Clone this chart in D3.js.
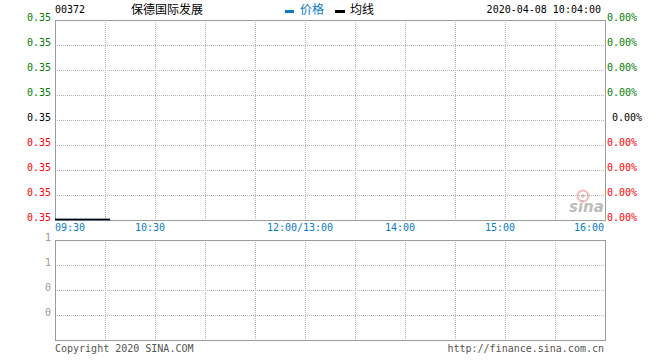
<!DOCTYPE html>
<html>
<head>
<meta charset="utf-8">
<script src="https://cdn.jsdelivr.net/npm/d3@7"></script>
<style>
  body { margin: 0; background: #fff; }
  svg text { font-family: "DejaVu Sans Mono", monospace; font-size: 10px; }
  .cjk { font-family: "Noto Sans CJK SC", sans-serif !important; font-size: 12px !important; }
</style>
</head>
<body>
<div id="chart"></div>
<script>
// stock info
const stockCode = '00372'
const stockName = '保德国际发展'
const stamp = '2020-04-08 10:04:00'

// minute data (flat at 0.35 so far)
const times = ['09:30', '09:31', '09:32', '09:33', '09:34', '09:35', '09:36', '09:37', '09:38', '09:39',
  '09:40', '09:41', '09:42', '09:43', '09:44', '09:45', '09:46', '09:47', '09:48', '09:49',
  '09:50', '09:51', '09:52', '09:53', '09:54', '09:55', '09:56', '09:57', '09:58', '09:59',
  '10:00', '10:01', '10:02', '10:03']
const prices = [0.35, 0.35, 0.35, 0.35, 0.35, 0.35, 0.35, 0.35, 0.35, 0.35,
  0.35, 0.35, 0.35, 0.35, 0.35, 0.35, 0.35, 0.35, 0.35, 0.35,
  0.35, 0.35, 0.35, 0.35, 0.35, 0.35, 0.35, 0.35, 0.35, 0.35,
  0.35, 0.35, 0.35, 0.35]
const avgPrices = prices.slice()

// axis labels
const priceLabels = ['0.35', '0.35', '0.35', '0.35', '0.35', '0.35', '0.35', '0.35', '0.35']
const pctLabels = ['0.00%', '0.00%', '0.00%', '0.00%', '0.00%', '0.00%', '0.00%', '0.00%', '0.00%']
const volLabels = ['1', '1', '0', '0']
const timeTicks = ['09:30', '10:30', '12:00', '14:00', '15:00', '16:00']
const timeTickText = ['09:30', '10:30', '12:00/13:00', '14:00', '15:00', '16:00']
const priceLow = 0.35, priceHigh = 0.3504

const W = 660, H = 360
const pLeft = 55, pRight = 605
const pTop = 20, pBottom = 220
const vTop = 240, vBottom = 340
const green = '#008000', red = '#ff0000', blue = '#0a7ccc', grid = '#b4b4b4', frame = '#9c9c9c'

const toMin = t => { let [h, m] = t.split(':').map(Number); return h * 60 + m }

const x = d3.scaleLinear()
  .domain([toMin('09:30'), toMin('12:00'), toMin('13:00'), toMin('16:00')])
  .range([pLeft, 305, 305, pRight])
const y = d3.scaleLinear().domain([priceLow, priceHigh]).range([pBottom, pTop])
const yRow = d3.scaleLinear().domain([0, 8]).range([pTop, pBottom])
const vRow = d3.scaleLinear().domain([0, 4]).range([vTop, vBottom])
const col = d3.scaleLinear().domain([0, 11]).range([pLeft, pRight])

const svg = d3.select('#chart').append('svg')
  .attr('width', W).attr('height', H)

function drawGrid(y0, y1, rows, rowScale) {
  let g = svg.append('g')
  g.selectAll('line.h').data(d3.range(1, rows)).enter().append('line')
    .attr('x1', pLeft).attr('x2', pRight)
    .attr('y1', d => rowScale(d) + 0.5).attr('y2', d => rowScale(d) + 0.5)
    .attr('stroke', grid).attr('stroke-dasharray', '1,1')
  g.selectAll('line.v').data(d3.range(1, 11)).enter().append('line')
    .attr('x1', d => col(d) + 0.5).attr('x2', d => col(d) + 0.5)
    .attr('y1', y0).attr('y2', y1)
    .attr('stroke', grid).attr('stroke-dasharray', '1,1')
  g.append('rect')
    .attr('x', pLeft + 0.5).attr('y', y0 + 0.5)
    .attr('width', pRight - pLeft).attr('height', y1 - y0)
    .attr('fill', 'none').attr('stroke', frame)
}
drawGrid(pTop, pBottom, 8, yRow)
drawGrid(vTop, vBottom, 4, vRow)

// watermark
let wm = svg.append('g').attr('opacity', 0.55)
wm.append('circle').attr('cx', 583).attr('cy', 196).attr('r', 5.5)
  .attr('fill', 'none').attr('stroke', '#f08080').attr('stroke-width', 2)
wm.append('circle').attr('cx', 583).attr('cy', 196).attr('r', 1.8).attr('fill', '#999')
wm.append('text').attr('x', 569).attr('y', 212)
  .style('font-family', 'DejaVu Sans').style('font-size', '15px')
  .style('font-style', 'italic').style('font-weight', 'bold')
  .attr('fill', '#888').text('sina')

// price side labels
const colorOf = i => i < 4 ? green : (i === 4 ? '#000' : red)
svg.selectAll('text.pl').data(priceLabels).enter().append('text')
  .attr('x', 51).attr('y', (d, i) => yRow(i) + 1)
  .attr('text-anchor', 'end').attr('fill', (d, i) => colorOf(i)).text(d => d)
svg.selectAll('text.pr').data(pctLabels).enter().append('text')
  .attr('x', (d, i) => i === 4 ? 612 : 607).attr('y', (d, i) => yRow(i) + 1)
  .attr('fill', (d, i) => colorOf(i)).text(d => d)

// volume labels
svg.selectAll('text.vl').data(volLabels).enter().append('text')
  .attr('x', 51).attr('y', (d, i) => vRow(i) + 1)
  .attr('text-anchor', 'end').attr('fill', '#999').text(d => d)

// time labels
svg.selectAll('text.tl').data(timeTicks).enter().append('text')
  .attr('x', (d, i) => i === 0 ? pLeft : (i === timeTicks.length - 1 ? pRight - 1 : x(toMin(d)) - 5))
  .attr('y', 231)
  .attr('text-anchor', (d, i) => i === 0 ? 'start' : (i === timeTicks.length - 1 ? 'end' : 'middle'))
  .attr('fill', blue).text((d, i) => timeTickText[i])

// lines
const line = d3.line().x(d => x(toMin(d[0]))).y(d => y(d[1]) - 0.5)
svg.append('path').datum(d3.zip(times, prices))
  .attr('d', line).attr('fill', 'none').attr('stroke', blue).attr('stroke-width', 1.5)
svg.append('path').datum(d3.zip(times, avgPrices))
  .attr('d', line).attr('fill', 'none').attr('stroke', '#000').attr('stroke-width', 1.5)

// header
svg.append('text').attr('x', 55).attr('y', 13).attr('fill', '#000').text(stockCode)
svg.append('text').attr('class', 'cjk').attr('x', 131).attr('y', 14).attr('fill', '#000').text(stockName)
svg.append('rect').attr('x', 285).attr('y', 10).attr('width', 9).attr('height', 3).attr('fill', blue)
svg.append('text').attr('class', 'cjk').attr('x', 300).attr('y', 14).attr('fill', blue).text('价格')
svg.append('rect').attr('x', 335).attr('y', 10).attr('width', 10).attr('height', 3).attr('fill', '#000')
svg.append('text').attr('class', 'cjk').attr('x', 350).attr('y', 14).attr('fill', '#000').text('均线')
svg.append('text').attr('x', 601).attr('y', 13).attr('text-anchor', 'end').attr('fill', '#000').text(stamp)

// footer
svg.append('text').attr('x', 55).attr('y', 352).attr('fill', '#555').text('Copyright 2020 SINA.COM')
svg.append('text').attr('x', 604).attr('y', 352).attr('text-anchor', 'end').attr('fill', '#555').text('http://finance.sina.com.cn')
</script>
</body>
</html>
